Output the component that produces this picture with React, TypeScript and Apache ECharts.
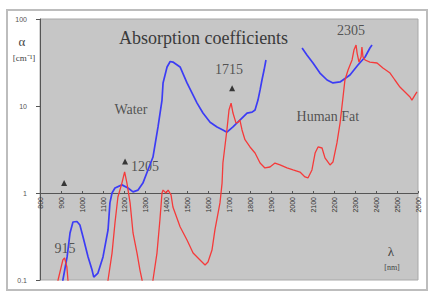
import React, { useEffect, useRef } from "react";
import * as echarts from "echarts";

// Absorption coefficient data (wavelength nm, alpha cm^-1)
const waterPoints: ([number, number] | null)[] = [
  [900, 0.06], [909, 0.1], [929, 0.184], [943, 0.347], [957, 0.464], [976, 0.47], [990, 0.429],
  [1005, 0.312], [1029, 0.184], [1048, 0.13], [1056, 0.108], [1076, 0.12], [1100, 0.184],
  [1124, 0.376], [1133, 0.77], [1143, 1.0], [1157, 1.14], [1190, 1.24], [1219, 1.14],
  [1243, 1.03], [1267, 1.08], [1290, 1.3], [1314, 1.84], [1338, 2.59], [1362, 5.74],
  [1381, 11.7], [1386, 18.4], [1405, 28.1], [1420, 32.5], [1433, 32.0], [1467, 28.1],
  [1500, 18.4], [1548, 10.8], [1576, 8.3], [1610, 6.5], [1643, 5.74], [1671, 5.3],
  [1690, 5.0], [1719, 5.74], [1752, 6.9], [1786, 8.3], [1810, 8.5], [1824, 9.0],
  [1838, 11.7], [1848, 15.3], [1857, 19.9], [1867, 25.9], [1876, 33.8],
];
const waterPoints2: [number, number][] = [
  [2048, 46.4], [2071, 38.6], [2100, 31.2], [2133, 23.9], [2167, 19.9], [2195, 18.4],
  [2229, 18.9], [2276, 22.7], [2314, 29.6], [2348, 36.6], [2371, 46.4], [2381, 50.2],
];
const fatPoints: [number, number][] = [
  [870, 0.05], [886, 0.1], [909, 0.17], [917, 0.18], [928, 0.141], [933, 0.1], [945, 0.05],
  [1110, 0.05], [1124, 0.1], [1143, 0.204], [1157, 0.452], [1171, 0.9], [1190, 1.3],
  [1203, 1.75], [1214, 1.3], [1229, 0.77], [1243, 0.347], [1262, 0.204], [1276, 0.13],
  [1286, 0.1], [1300, 0.05],
  [1325, 0.05], [1338, 0.1], [1357, 0.204], [1371, 0.49], [1381, 1.0], [1386, 1.08],
  [1400, 1.0], [1410, 1.08], [1424, 0.95], [1433, 0.69], [1467, 0.41], [1500, 0.288],
  [1529, 0.204], [1562, 0.17], [1586, 0.149], [1600, 0.161], [1619, 0.221], [1633, 0.376],
  [1657, 0.77], [1667, 1.3], [1671, 2.21], [1690, 5.3], [1700, 9.0], [1710, 10.8],
  [1719, 8.3], [1733, 6.4], [1743, 6.5], [1752, 6.9], [1762, 5.3], [1776, 4.1],
  [1800, 3.38], [1824, 2.88], [1848, 2.21], [1871, 1.94], [1895, 1.99], [1919, 2.21],
  [1943, 2.1], [1976, 1.94], [2005, 1.84], [2038, 1.74], [2062, 1.53], [2076, 1.49],
  [2095, 1.84], [2110, 2.88], [2124, 3.38], [2143, 3.29], [2157, 2.53], [2181, 2.1],
  [2195, 2.27], [2214, 3.76], [2229, 6.4], [2243, 12.7], [2252, 19.9], [2267, 25.9],
  [2286, 33.8], [2295, 44], [2305, 50.2], [2310, 40.6], [2319, 32.0], [2329, 36.6],
  [2333, 47.7], [2338, 36.6], [2348, 33.8], [2371, 32.0], [2405, 31.2], [2433, 27.3],
  [2467, 23.9], [2490, 19.9], [2514, 16.5], [2538, 14.5], [2562, 12.7], [2571, 11.7],
  [2586, 13.4], [2595, 14.5],
];
const peakMarkers: [number, number][] = [
  [915, 1.3], [1205, 2.3], [1715, 16],
];
const annotationTexts = ["915", "1205", "1715", "2305", "Water", "Human Fat"];
const annotationPositions: [number, number][] = [
  [919, 0.233], [1300, 1.99], [1700, 26.6], [2281, 72.8], [1233, 9.2], [2171, 7.5],
];
const xMin = 800;
const xMax = 2600;
const xStep = 100;
const yTickLabels = ["0.1", "1", "10", "100"];

export default function App() {
  const ref = useRef<HTMLDivElement>(null);
  useEffect(() => {
    document.body.style.margin = "0";
    if (!ref.current) return;
    const chart = echarts.init(ref.current, undefined, { renderer: "svg" });
    const serif = "Liberation Serif";
    const sans = "Liberation Sans";
    chart.setOption({
      animation: false,
      backgroundColor: "#ffffff",
      title: {
        text: "Absorption coefficients",
        left: 114,
        top: 24,
        textStyle: { fontFamily: serif, fontSize: 18, fontWeight: "normal", color: "#3a3a3a" },
      },
      graphic: [
        {
          type: "rect",
          z: -10,
          shape: { x: 7, y: 10, width: 420, height: 280 },
          style: { fill: "#ffffff", stroke: "#bdbdbd", lineWidth: 2 },
        },
        {
          type: "text",
          x: 22, y: 41,
          style: { text: "α", fontFamily: serif, fontSize: 13, fill: "#444", align: "center", verticalAlign: "middle" },
        },
        {
          type: "text",
          x: 24, y: 58,
          style: { text: "[cm⁻¹]", fontFamily: serif, fontSize: 9, fill: "#444", align: "center", verticalAlign: "middle" },
        },
        {
          type: "text",
          x: 391, y: 251,
          style: { text: "λ", fontFamily: serif, fontSize: 13, fill: "#444", align: "center", verticalAlign: "middle" },
        },
        {
          type: "text",
          x: 392, y: 267,
          style: { text: "[nm]", fontFamily: serif, fontSize: 8, fill: "#444", align: "center", verticalAlign: "middle" },
        },
      ],
      grid: {
        left: 40, right: 18, top: 19, bottom: 20,
        show: true, backgroundColor: "#c6c6c6", borderColor: "#a8a8a8", borderWidth: 1,
      },
      xAxis: {
        type: "value",
        min: xMin,
        max: xMax,
        interval: xStep,
        offset: -87,
        axisLine: { show: true, lineStyle: { color: "#555", width: 1 } },
        axisTick: { show: true, length: 2, inside: true, lineStyle: { color: "#555" } },
        axisLabel: {
          rotate: 90, fontSize: 7, color: "#333", fontFamily: sans, margin: 4,
          showMinLabel: true, showMaxLabel: true,
          formatter: (v: number) => String(v),
        },
        splitLine: { show: false },
      },
      yAxis: {
        type: "log",
        logBase: 10,
        min: 0.1,
        max: 100,
        axisLine: { show: true, lineStyle: { color: "#555", width: 1 } },
        axisTick: { show: true, length: 4, lineStyle: { color: "#555" } },
        axisLabel: {
          fontSize: 7, color: "#555", fontFamily: sans, margin: 13,
          formatter: (v: number) => {
            const idx = Math.round(Math.log10(v)) + 1;
            return yTickLabels[idx] ?? String(v);
          },
        },
        splitLine: { show: false },
      },
      series: [
        {
          name: "Water",
          type: "line",
          data: [...waterPoints, null, ...waterPoints2],
          connectNulls: false,
          showSymbol: false,
          lineStyle: { color: "#3c3cf5", width: 1.7 },
          clip: true,
        },
        {
          name: "Human Fat",
          type: "line",
          data: fatPoints,
          showSymbol: false,
          lineStyle: { color: "#f53a3a", width: 1.3 },
          clip: true,
        },
        {
          name: "peaks",
          type: "scatter",
          data: peakMarkers,
          symbol: "triangle",
          symbolSize: 6,
          itemStyle: { color: "#111" },
        },
        {
          name: "labels",
          type: "scatter",
          symbolSize: 0,
          data: annotationTexts.map((t, i) => ({ name: t, value: annotationPositions[i] })),
          label: {
            show: true,
            position: "inside",
            formatter: "{b}",
            fontFamily: serif,
            fontSize: 14,
            color: "#333",
          },
        },
      ],
    });
    return () => chart.dispose();
  }, []);
  return <div ref={ref} style={{ width: 436, height: 300 }} />;
}
